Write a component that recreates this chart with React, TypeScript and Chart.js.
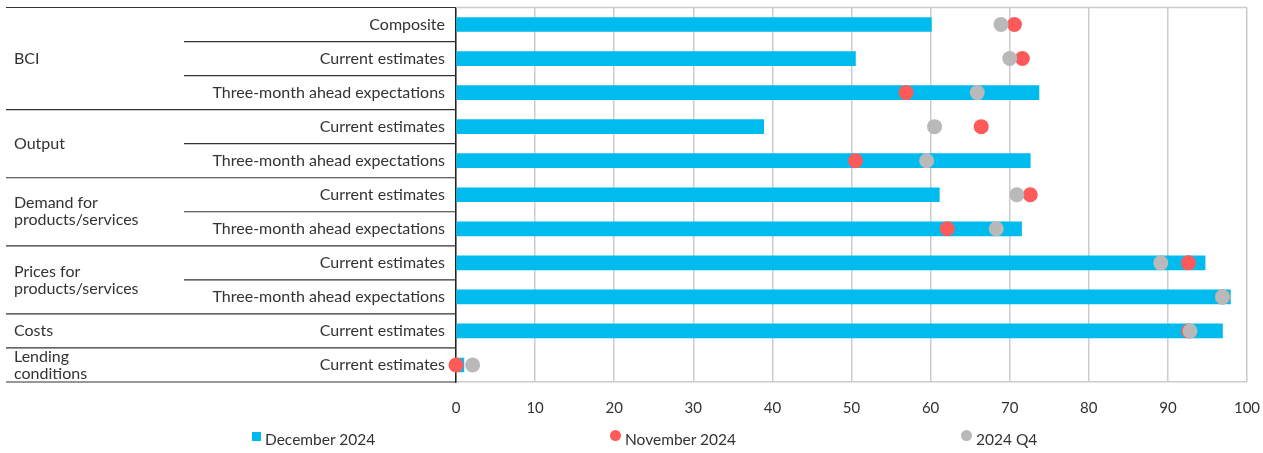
import React, { useEffect, useRef } from "react";
import { Chart, registerables } from "chart.js";

Chart.register(...registerables);

const subLabels = [
  "Composite",
  "Current estimates",
  "Three-month ahead expectations",
  "Current estimates",
  "Three-month ahead expectations",
  "Current estimates",
  "Three-month ahead expectations",
  "Current estimates",
  "Three-month ahead expectations",
  "Current estimates",
  "Current estimates",
];

const groupLabels = [
  ["BCI"],
  ["Output"],
  ["Demand for", "products/services"],
  ["Prices for", "products/services"],
  ["Costs"],
  ["Lending", "conditions"],
];
const groupSizes = [3, 2, 2, 2, 1, 1];

const december2024 = [60.1, 50.5, 73.7, 38.9, 72.6, 61.1, 71.5, 94.7, 97.9, 96.9, 1.0];
const november2024 = [70.6, 71.6, 56.9, 66.4, 50.5, 72.6, 62.1, 92.6, 96.9, 92.6, 0.0];
const q42024 = [68.9, 70.0, 65.9, 60.5, 59.5, 70.9, 68.3, 89.1, 96.9, 92.8, 2.1];

const seriesNames = ["December 2024", "November 2024", "2024 Q4"];
const xTicks = [0, 10, 20, 30, 40, 50, 60, 70, 80, 90, 100];

const BLUE = "#00BBEE";
const RED = "#FF5A5A";
const GRAY = "#B9B9B9";
const TEXT = "#333333";
const FONT = "Lato";
const LABEL_SIZE = 16;
const TICK_SIZE = 15;
const LEGEND_SIZE = 15.5;

const W = 1263;
const H = 453;

export default function App() {
  const ref = useRef<HTMLCanvasElement | null>(null);

  useEffect(() => {
    document.body.style.margin = "0";
    const canvas = ref.current;
    if (!canvas) return;

    const groupPlugin = {
      id: "groupLabels",
      afterDraw(chart: any) {
        const { ctx, chartArea } = chart;
        const y = chart.scales.y;
        const left = 6;
        const axisX = chartArea.left;
        const n = subLabels.length;
        const bounds: number[] = [];
        for (let i = 0; i < n - 1; i++) {
          bounds.push((y.getPixelForTick(i) + y.getPixelForTick(i + 1)) / 2);
        }
        const groupEnds = new Set<number>();
        let acc = 0;
        groupSizes.forEach((s) => {
          acc += s;
          groupEnds.add(acc - 1);
        });
        ctx.save();
        ctx.strokeStyle = "#333333";
        ctx.lineWidth = 1.2;
        const hline = (x1: number, x2: number, yy: number) => {
          ctx.beginPath();
          ctx.moveTo(x1, yy);
          ctx.lineTo(x2, yy);
          ctx.stroke();
        };
        hline(left, axisX, chartArea.top);
        hline(left, axisX, chartArea.bottom);
        bounds.forEach((b, i) => {
          if (groupEnds.has(i)) hline(left, axisX, b);
          else hline(184, axisX, b);
        });
        ctx.strokeStyle = "#cccccc";
        ctx.lineWidth = 1.5;
        hline(axisX, chartArea.right, chartArea.top);

        ctx.fillStyle = TEXT;
        ctx.font = `${LABEL_SIZE}px ${FONT}`;
        ctx.textAlign = "left";
        ctx.textBaseline = "middle";
        let start = 0;
        groupSizes.forEach((s, g) => {
          const top = start === 0 ? chartArea.top : bounds[start - 1];
          const end = start + s - 1;
          const bottom = end === n - 1 ? chartArea.bottom : bounds[end];
          const mid = (top + bottom) / 2;
          const lines = groupLabels[g];
          const lh = 17;
          lines.forEach((t, k) => {
            ctx.fillText(t, 14, mid + (k - (lines.length - 1) / 2) * lh);
          });
          start += s;
        });
        ctx.restore();
      },
    };

    const chart = new Chart(canvas, {
      type: "bar",
      data: {
        labels: subLabels,
        datasets: [
          {
            type: "bar",
            label: seriesNames[0],
            data: december2024,
            backgroundColor: BLUE,
            borderWidth: 0,
            barThickness: 14,
            order: 3,
            indexAxis: "y",
          } as any,
          {
            type: "line",
            label: seriesNames[1],
            data: november2024,
            showLine: false,
            backgroundColor: RED,
            borderColor: RED,
            pointBackgroundColor: RED,
            pointBorderWidth: 0,
            pointRadius: 7.5,
            pointHoverRadius: 7.5,
            order: 2,
            indexAxis: "y",
            clip: false,
          } as any,
          {
            type: "line",
            label: seriesNames[2],
            data: q42024,
            showLine: false,
            backgroundColor: GRAY,
            borderColor: GRAY,
            pointBackgroundColor: GRAY,
            pointBorderWidth: 0,
            pointRadius: 7.5,
            pointHoverRadius: 7.5,
            order: 1,
            indexAxis: "y",
            clip: false,
          } as any,
        ],
      },
      options: {
        indexAxis: "y",
        animation: false,
        responsive: false,
        maintainAspectRatio: false,
        layout: { padding: { top: 5, right: 16, bottom: 36, left: 0 } },
        plugins: {
          legend: { display: false },
          tooltip: { enabled: false },
        },
        scales: {
          x: {
            type: "linear",
            min: 0,
            max: 100,
            afterBuildTicks: (scale: any) => {
              scale.ticks = xTicks.map((v) => ({ value: v }));
            },
            afterFit: (scale: any) => {
              scale.height = 35;
              scale.paddingLeft = 0;
              scale.paddingRight = 0;
            },
            grid: { color: "#cccccc", lineWidth: 1.5, drawTicks: false },
            border: { color: "#cccccc", width: 1.5 },
            ticks: {
              padding: 17,
              color: TEXT,
              font: { family: FONT, size: TICK_SIZE },
            },
          },
          y: {
            type: "category",
            afterFit: (scale: any) => {
              scale.width = 456;
              scale.paddingTop = 0;
              scale.paddingBottom = 0;
            },
            grid: { display: false, drawTicks: false },
            border: { color: "#222222", width: 1.5 },
            ticks: {
              padding: 11,
              color: TEXT,
              font: { family: FONT, size: LABEL_SIZE },
              autoSkip: false,
            },
          },
        },
      } as any,
      plugins: [groupPlugin],
    });
    return () => chart.destroy();
  }, []);

  const legendText: React.CSSProperties = {
    position: "absolute",
    top: 430,
    fontFamily: FONT,
    fontSize: LEGEND_SIZE,
    color: TEXT,
    lineHeight: "18px",
    whiteSpace: "nowrap",
  };

  return (
    <div style={{ position: "relative", width: W, height: H }}>
      <canvas ref={ref} width={W} height={H} style={{ width: W, height: H, display: "block" }} />
      <div style={{ position: "absolute", left: 252, top: 432, width: 9, height: 9, background: BLUE }} />
      <div style={{ ...legendText, left: 265 }}>{seriesNames[0]}</div>
      <div style={{ position: "absolute", left: 610, top: 430, width: 11, height: 11, borderRadius: "50%", background: RED }} />
      <div style={{ ...legendText, left: 625 }}>{seriesNames[1]}</div>
      <div style={{ position: "absolute", left: 961, top: 430, width: 11, height: 11, borderRadius: "50%", background: GRAY }} />
      <div style={{ ...legendText, left: 976 }}>{seriesNames[2]}</div>
    </div>
  );
}
